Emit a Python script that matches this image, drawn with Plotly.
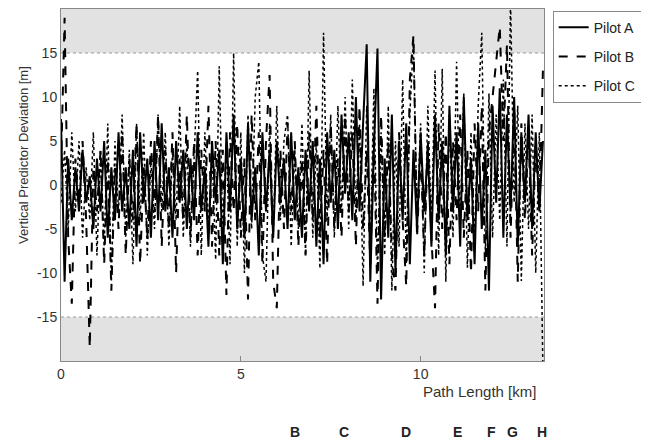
import plotly.graph_objects as go

# path length grid (km), one sample every 0.1 km
path_km = [round(0.1 * i, 1) for i in range(135)]

# vertical predictor deviation [m]
pilot_a = [7.5, -11, 3, -4, 2, -3, 4, -2, 1, -5,
           3, -3, 5, -6, 2, -4, 6, -3, 2, -5,
           4, -7, 6, -2, 3, -6, 5, -4, 7, -3,
           2, -6, 5, -2, 4, -5, 3, -4, 6, -3,
           2, -7, 5, -2, 4, -9, 6, -3, 8, -5,
           3, -6, 7, -4, 2, -8, 6, -3, 4, -6,
           5, -2, 3, -5, 6, -4, 2, -6, 4, -3,
           5, -7, 3, -9, 6, -2, 4, -5, 8, -1,
           6, -4, 10, -3, 7, 16, -11, 4, 15.5, -13,
           3, -6, 8, -10, 5, -4, 7, -9, 4, -5,
           6, -3, 4, -7, 8, -4, 5, -8, 9, -3,
           6, -7, 10, -4, 3, -9, 7, -5, 4, -12,
           9, -2, 11, -6, 8, -3, 10, -7, 6, -2,
           8, -5, 6, -3, 5]

pilot_b = [2, 19, -6, -13.5, 3, -2, 5, -4, -18.5, 2,
           -3, 4, -9, 3, -12, 2, -5, 6, -8, 3,
           -4, 7, -9, 2, -6, 5, -3, 8, -7, 4,
           -5, 6, -10, 3, -4, 8, -6, 5, -8, 4,
           -3, 9, -7, 5, -8, 4, -12.5, 6, -3, 7,
           -6, 3, -13, 8, -4, 6, -9, 5, 12.5, -11,
           -14, 4, -5, 7, -3, 5, -7, 3, -8, 6,
           -4, 9, -6, 4, -9, 7, -5, 3, -6, 8,
           -3, 6, -7, 9, -5, 4, -9, 6, -13.5, 8,
           -6, 5, -8, -12, 6, -4, -11.5, 12, 17, -6,
           4, -8, 5, -6, -14, 7, -5, 6, -9, 5,
           -4, 8, -6, 4, -10, 7, -3, 9, -12, 6,
           10, 14, 18, 5, 16, -6, 9, -11, 7, -4,
           6, -8, 5, -3, 13]

pilot_c = [-2, 4, -5, 6, -3, 5, -6, 2, -4, 6,
           -8, 4, -7, 7, -11, 5, -3, 8, -6, 4,
           -9, 7, -4, 6, -8, 3, -5, 8, -3, 6,
           -7, 4, -4, 9, -6, 5, -7, 3, 13, -8,
           6, -5, 4, -8.5, 13.5, -6, 5, -9, 15, -7,
           6, -10, 8, -5, 10, 14, -8, -11, 7, -6,
           9, -4, 5, 8, -7, 4, -5, 7, -8, 13,
           -6, 5, -9.5, 17.3, -4, 8, -6, 9, -3, 10,
           -5, 12, -4, 7, -11.5, 9, -7, 11, -10, 6,
           -8, 9, -12, 5, -7, 12, -9, 8, 16.5, -4,
           7, -10, 9, -5, 13, -8, 13.2, -11, 8, -6,
           14, -5, 10.5, -9.4, 6, -7, 9, 17.3, -8, 10.4,
           -6, 8, -4, 12, -7, 21, -2, 9, -10.9, 7,
           -5, 8, -10, 6, -21]

pilot_names = ['Pilot A', 'Pilot B', 'Pilot C']
pilot_dash = ['solid', 'dash', 'dot']
pilot_width = [2, 2, 1.5]

# waypoint letters below the chart
waypoint_labels = ['B', 'C', 'D', 'E', 'F', 'G', 'H']
waypoint_km = [6.52, 7.86, 9.58, 11.03, 11.98, 12.56, 13.37]

y_ticks = [-15, -10, -5, 0, 5, 10, 15]
y_ticktext = ['-15', '-10', '-5', '0', '5', '10', '15']
x_ticks = [0, 5, 10]

fig = go.Figure()
for name, ys, dash, w in zip(pilot_names, [pilot_a, pilot_b, pilot_c], pilot_dash, pilot_width):
    fig.add_trace(go.Scatter(x=path_km, y=ys, mode='lines', name=name, legendgroup=name,
                             line=dict(color='black', width=w, dash=dash)))

# grey bands outside +/-15 m
for y0, y1 in [(15, 20), (-20, -15)]:
    fig.add_shape(type='rect', xref='paper', yref='y', x0=0, x1=1, y0=y0, y1=y1,
                  fillcolor='#e2e2e2', line_width=0, layer='below')
for yl in [15, -15]:
    fig.add_shape(type='line', xref='paper', yref='y', x0=0, x1=1, y0=yl, y1=yl,
                  line=dict(color='#999999', width=1, dash='dot'), layer='below')

for lab, xk in zip(waypoint_labels, waypoint_km):
    fig.add_annotation(x=xk, y=-0.2017, xref='x', yref='paper', text='<b>' + lab + '</b>',
                       xanchor='center', yanchor='middle', showarrow=False,
                       font=dict(size=14, color='#222222'))

fig.add_annotation(x=0.987, y=-0.088, xref='paper', yref='paper', text='Path Length [km]',
                   xanchor='right', yanchor='middle', showarrow=False,
                   font=dict(size=15, color='#333333'))
fig.add_annotation(x=-0.079, y=0.585, xref='paper', yref='paper',
                   text='Vertical Predictor Deviation [m]', textangle=-90,
                   xanchor='center', yanchor='middle',
                   showarrow=False, font=dict(size=13, color='#333333'))

fig.update_xaxes(range=[0, 13.43], tickvals=x_ticks, ticks='inside', ticklen=5,
                 tickcolor='#888888', showgrid=False, zeroline=False,
                 showline=True, linecolor='#888888', linewidth=1, mirror=True,
                 tickfont=dict(size=14, color='#333333'))
fig.update_yaxes(range=[-20, 20], tickvals=y_ticks, ticktext=y_ticktext, ticks='',
                 showgrid=False, zeroline=True, zerolinecolor='#888888', zerolinewidth=1,
                 showline=True, linecolor='#888888', linewidth=1, mirror=True,
                 tickfont=dict(size=14, color='#333333'))

# page body adds an 8px offset, so the figure is sized 8px smaller
fig.update_layout(width=641, height=432, margin=dict(l=53, r=105, t=1, b=79),
                  paper_bgcolor='white', plot_bgcolor='white',
                  font=dict(family='Liberation Sans, Arial', size=14, color='#333333'),
                  legend=dict(x=1.018, y=0.995, xanchor='left', yanchor='top',
                              bordercolor='#888888', borderwidth=1, tracegroupgap=8,
                              font=dict(size=14, color='#222222')))
fig.write_html('out.html')
